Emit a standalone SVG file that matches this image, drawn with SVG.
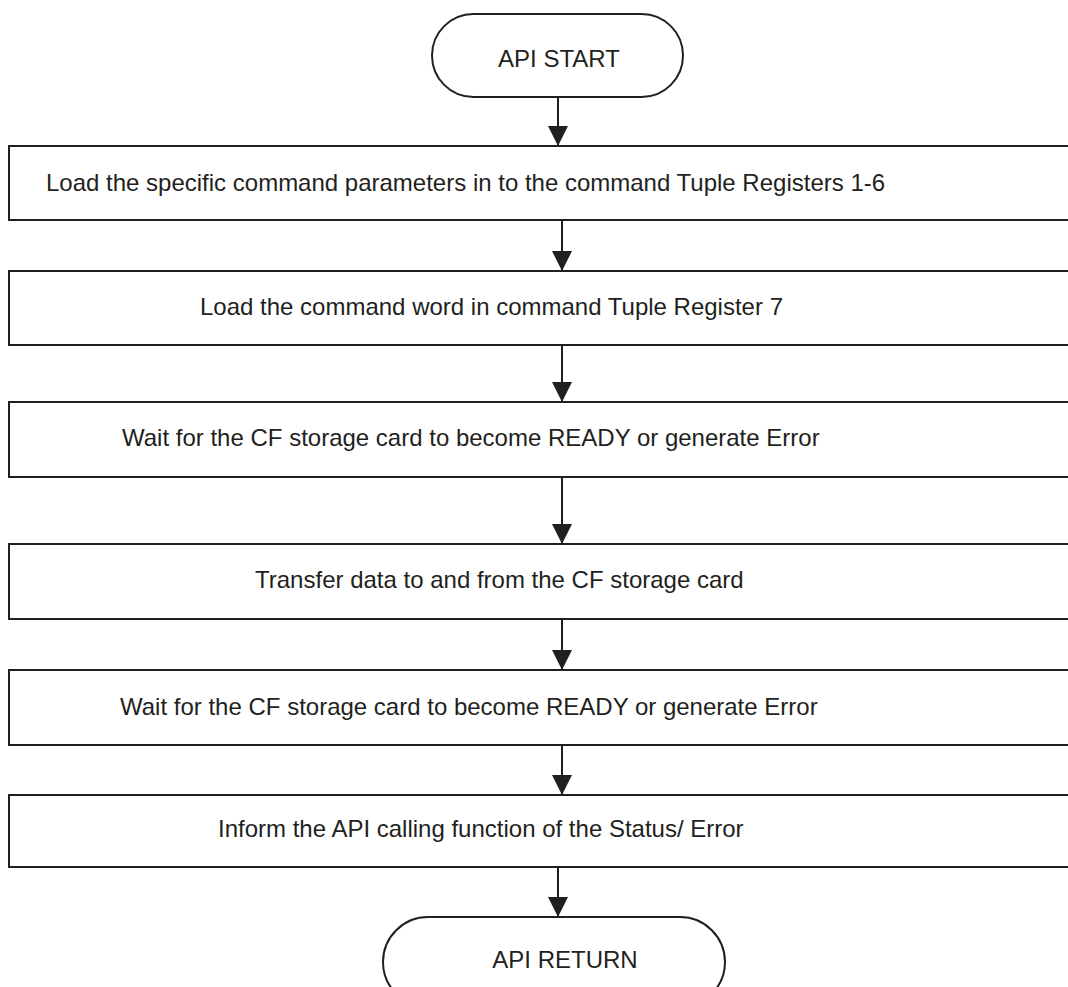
<svg xmlns="http://www.w3.org/2000/svg" width="1068" height="987" viewBox="0 0 1068 987">
<style>
.shape{fill:#fff;stroke:#231f20;stroke-width:2}
.lbl{font-family:"Liberation Sans",Arial,sans-serif;font-size:24px;fill:#231f20}
.c{text-anchor:middle}
.conn{stroke:#231f20;stroke-width:2;fill:none}
</style>
<defs>
<marker id="ah" markerUnits="userSpaceOnUse" markerWidth="20" markerHeight="20" refX="20" refY="10" orient="auto">
<path d="M0,0 L20,10 L0,20 Z" fill="#231f20"/>
</marker>
</defs>
<rect width="1068" height="987" fill="#fff"/>
<g id="start">
<rect class="shape" x="432" y="14" width="251" height="83" rx="41.5" ry="41.5"/>
<text class="lbl c" x="559" y="67">API START</text>
</g>
<g id="step1">
<rect class="shape" x="9" y="146" width="1075" height="74"/>
<text class="lbl" x="46" y="191">Load the specific command parameters in to the command Tuple Registers 1-6</text>
</g>
<g id="step2">
<rect class="shape" x="9" y="271" width="1075" height="74"/>
<text class="lbl" x="200" y="315">Load the command word in command Tuple Register 7</text>
</g>
<g id="step3">
<rect class="shape" x="9" y="402" width="1075" height="75"/>
<text class="lbl" x="122" y="446">Wait for the CF storage card to become READY or generate Error</text>
</g>
<g id="step4">
<rect class="shape" x="9" y="544" width="1075" height="75"/>
<text class="lbl" x="255" y="588">Transfer data to and from the CF storage card</text>
</g>
<g id="step5">
<rect class="shape" x="9" y="670" width="1075" height="75"/>
<text class="lbl" x="120" y="715">Wait for the CF storage card to become READY or generate Error</text>
</g>
<g id="step6">
<rect class="shape" x="9" y="795" width="1075" height="72"/>
<text class="lbl" x="218" y="837">Inform the API calling function of the Status/ Error</text>
</g>
<g id="return">
<rect class="shape" x="383" y="917" width="342" height="90" rx="45" ry="45"/>
<text class="lbl c" x="565" y="968">API RETURN</text>
</g>
<g id="connectors">
<line class="conn" x1="558" y1="97" x2="558" y2="146" marker-end="url(#ah)"/>
<line class="conn" x1="562" y1="220" x2="562" y2="271" marker-end="url(#ah)"/>
<line class="conn" x1="562" y1="345" x2="562" y2="402" marker-end="url(#ah)"/>
<line class="conn" x1="562" y1="477" x2="562" y2="544" marker-end="url(#ah)"/>
<line class="conn" x1="562" y1="619" x2="562" y2="670" marker-end="url(#ah)"/>
<line class="conn" x1="562" y1="745" x2="562" y2="795" marker-end="url(#ah)"/>
<line class="conn" x1="558" y1="867" x2="558" y2="917" marker-end="url(#ah)"/>
</g>
</svg>
